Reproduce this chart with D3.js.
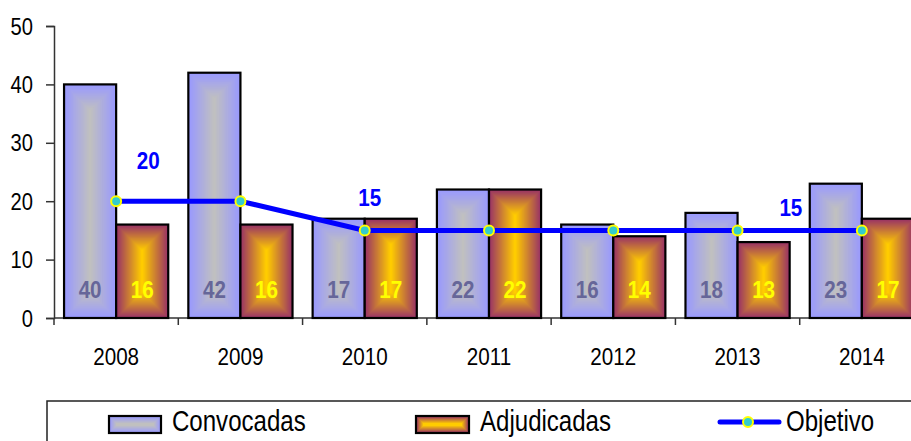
<!DOCTYPE html>
<html lang="es">
<head>
<meta charset="UTF-8">
<title>Convocadas / Adjudicadas</title>
<script src="https://d3js.org/d3.v7.min.js"></script>
<style>
  body { margin: 0; background: #fff; }
  text { font-family: "Liberation Sans", Arial, sans-serif; }
</style>
</head>
<body>
<script>
    const years       = ['2008', '2009', '2010', '2011', '2012', '2013', '2014'];
    const convocadas  = [40, 42, 17, 22, 16, 18, 23];
    const adjudicadas = [16, 16, 17, 22, 14, 13, 17];
    const objetivo    = [20, 20, 15, 15, 15, 15, 15];
    const yTicks      = [0, 10, 20, 30, 40, 50];
    const objLabelIdx = [0, 2, 6];

    const width  = 911;
    const height = 441;

    const svg = d3.select('body').append('svg')
        .attr('width', width)
        .attr('height', height);

    const x = d3.scaleBand().domain(years).range([54, 924]);
    const sub = d3.scaleBand().domain(['conv', 'adj'])
        .range([0, x.bandwidth()]).paddingOuter(0.193);
    const y = d3.scaleLinear().domain([0, 50]).range([318, 26]);

    // squeezed text, the original uses a narrow face
    function narrow(t, tx, ty, sx) {
        return t.attr('transform', `translate(${tx},${ty}) scale(${sx},1)`);
    }

    // "from centre" rectangular gradient: nested insets
    function gradRect(g, x0, y0, w, h, edge, centre) {
        const n = Math.floor(Math.min(w, h) / 2);
        const col = d3.interpolateRgb(edge, centre);
        for (let k = 0; k < n; k++) {
            g.append('rect')
                .attr('x', x0 + k).attr('y', y0 + k)
                .attr('width', w - 2 * k).attr('height', h - 2 * k)
                .attr('fill', col(k / (n - 1)));
        }
        g.append('rect')
            .attr('x', x0).attr('y', y0)
            .attr('width', w).attr('height', h)
            .attr('fill', 'none')
            .attr('stroke', '#000')
            .attr('stroke-width', 2.2);
    }

    const blue = ['#9999ff', '#c0c0c0'];
    const plum = ['#993366', '#ffcc00'];

    // axes
    const axisY = svg.append('g').attr('transform', 'translate(54,0)')
        .call(d3.axisLeft(y).tickValues(yTicks).tickSize(8).tickFormat(''));
    axisY.select('.domain').attr('stroke', '#333').attr('stroke-width', 1.5);
    axisY.selectAll('.tick line').attr('stroke', '#333').attr('stroke-width', 1.5);
    yTicks.forEach(v => {
        narrow(svg.append('text'), 33, y(v) + 8.5, 0.84)
            .attr('text-anchor', 'end')
            .attr('font-size', 24)
            .attr('fill', '#000')
            .text(v);
    });

    svg.append('line')
        .attr('x1', 54).attr('x2', width)
        .attr('y1', y(0)).attr('y2', y(0))
        .attr('stroke', '#333').attr('stroke-width', 1.5);
    years.forEach(d => {
        svg.append('line')
            .attr('x1', x(d)).attr('x2', x(d))
            .attr('y1', y(0)).attr('y2', y(0) + 7)
            .attr('stroke', '#333').attr('stroke-width', 1.5);
        narrow(svg.append('text'), x(d) + x.bandwidth() / 2, 365, 0.86)
            .attr('text-anchor', 'middle')
            .attr('font-size', 24)
            .text(d);
    });

    // bars
    const bars = svg.append('g');
    years.forEach((d, i) => {
        const w = sub.bandwidth();
        const xc = x(d) + sub('conv');
        const xa = x(d) + sub('adj');
        gradRect(bars, xc, y(convocadas[i]), w, y(0) - y(convocadas[i]), blue[0], blue[1]);
        gradRect(bars, xa, y(adjudicadas[i]), w, y(0) - y(adjudicadas[i]), plum[0], plum[1]);

        narrow(bars.append('text'), xc + w / 2, y(0) - 20, 0.86)
            .attr('text-anchor', 'middle')
            .attr('font-size', 24).attr('font-weight', 'bold')
            .attr('fill', '#666699')
            .text(convocadas[i]);
        narrow(bars.append('text'), xa + w / 2, y(0) - 20, 0.86)
            .attr('text-anchor', 'middle')
            .attr('font-size', 24).attr('font-weight', 'bold')
            .attr('fill', '#ffff00')
            .text(adjudicadas[i]);
    });

    // objetivo line
    const cx = d => x(d) + x.bandwidth() / 2;
    const line = d3.line()
        .x((v, i) => cx(years[i]))
        .y(v => y(v));

    svg.append('path')
        .datum(objetivo)
        .attr('d', line)
        .attr('fill', 'none')
        .attr('stroke', '#0000ff')
        .attr('stroke-width', 5);

    svg.selectAll('circle.obj')
        .data(objetivo)
        .join('circle')
        .attr('class', 'obj')
        .attr('cx', (v, i) => cx(years[i]))
        .attr('cy', v => y(v))
        .attr('r', 5)
        .attr('fill', '#33cccc')
        .attr('stroke', '#ffff00')
        .attr('stroke-width', 2);

    const objOffset = [[32, -32], [5, -24], [-71, -14]];
    objLabelIdx.forEach((idx, j) => {
        narrow(svg.append('text'),
               cx(years[idx]) + objOffset[j][0],
               y(objetivo[idx]) + objOffset[j][1], 0.86)
            .attr('text-anchor', 'middle')
            .attr('font-size', 24).attr('font-weight', 'bold')
            .attr('fill', '#0000ff')
            .text(objetivo[idx]);
    });

    // legend
    const leg = svg.append('g');
    leg.append('rect')
        .attr('x', 47).attr('y', 401)
        .attr('width', 900).attr('height', 80)
        .attr('fill', 'none')
        .attr('stroke', '#222').attr('stroke-width', 1.5);

    gradRect(leg, 109, 416, 52, 17, blue[0], blue[1]);
    narrow(leg.append('text'), 172, 431, 0.83)
        .attr('font-size', 29).text('Convocadas');

    gradRect(leg, 416, 416, 53, 17, plum[0], plum[1]);
    narrow(leg.append('text'), 480, 431, 0.83)
        .attr('font-size', 29).text('Adjudicadas');

    leg.append('line')
        .attr('x1', 720).attr('x2', 779)
        .attr('y1', 422).attr('y2', 422)
        .attr('stroke', '#0000ff').attr('stroke-width', 5)
        .attr('stroke-linecap', 'round');
    leg.append('circle')
        .attr('cx', 748).attr('cy', 422).attr('r', 5)
        .attr('fill', '#33cccc')
        .attr('stroke', '#ffff00').attr('stroke-width', 2);
    narrow(leg.append('text'), 786, 431, 0.83)
        .attr('font-size', 29).text('Objetivo');
</script>
</body>
</html>
